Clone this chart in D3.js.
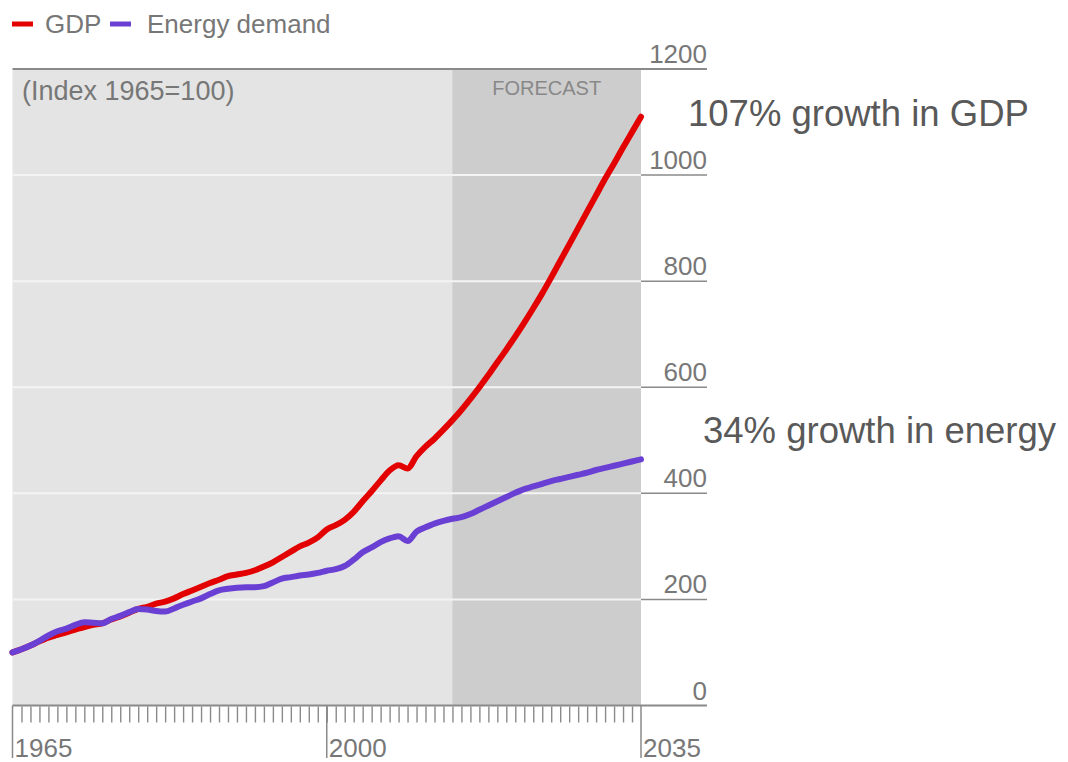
<!DOCTYPE html>
<html>
<head>
<meta charset="utf-8">
<script src="https://cdn.jsdelivr.net/npm/d3@7"></script>
<style>
  body { margin: 0; background: #fff; }
  svg { display: block; font-family: "Liberation Sans", Arial, sans-serif; }
</style>
</head>
<body>
<svg id="chart" width="1068" height="762"></svg>
<script>
// values, one per year from 1965 to 2035
const firstYear = 1965;
const gdp = [
  100, 106, 113, 121, 128, 133, 138, 143, 148, 152,
  155, 162, 168, 175, 182, 186, 192, 196, 202, 210,
  217, 224, 231, 237, 244, 247, 250, 255, 262, 270,
  280, 290, 300, 307, 317, 332, 340, 350, 365, 385,
  404, 424, 443, 453, 447, 470, 488, 503, 520, 538,
  557, 578, 600, 623, 647, 671, 696, 722, 749, 777,
  807, 838, 869, 900, 931, 962, 993, 1022, 1052, 1081,
  1110
];
const energy = [
  100, 106, 113, 122, 132, 140, 145, 152, 157, 156,
  155, 163, 169, 176, 182, 181, 178, 177, 183, 190,
  196, 202, 210, 217, 220, 222, 223, 223, 225, 232,
  239, 242, 245, 247, 250, 254, 257, 263, 275, 289,
  298, 308, 315, 319, 310, 328, 336, 343, 348, 352,
  355, 361, 369, 377, 385, 393, 401, 408, 413, 418,
  423, 427, 431, 435, 439, 444, 448, 452, 456, 460,
  464
];
const forecastStart = 2014;
const yTicks = [0, 200, 400, 600, 800, 1000, 1200];
const xLabels = [1965, 2000, 2035];
const seriesNames = ["GDP", "Energy demand"];
const seriesColors = ["#e30000", "#6a3fd4"];

const svg = d3.select("#chart");
const grey = "#8a8a8a";
const textGrey = "#777";

const x = d3.scaleLinear().domain([1965, 2035]).range([12.5, 641]);
const y = d3.scaleLinear().domain([0, 1200]).range([705.5, 69]);
const rightEdge = 707;

// plot background + forecast band
svg.append("rect")
  .attr("x", x(1965)).attr("y", y(1200))
  .attr("width", x(2035) - x(1965)).attr("height", y(0) - y(1200))
  .attr("fill", "#e4e4e4");
svg.append("rect")
  .attr("x", x(forecastStart)).attr("y", y(1200))
  .attr("width", x(2035) - x(forecastStart)).attr("height", y(0) - y(1200))
  .attr("fill", "#cdcdcd");

// gridlines: white inside the plot, grey under the labels
const inner = yTicks.filter(t => t > 0 && t < 1200);
svg.selectAll(".grid")
  .data(inner)
  .join("line")
  .attr("class", "grid")
  .attr("x1", x(1965)).attr("x2", x(2035))
  .attr("y1", d => y(d)).attr("y2", d => y(d))
  .attr("stroke", "#f4f4f4").attr("stroke-width", 2);
svg.selectAll(".gridR")
  .data(inner)
  .join("line")
  .attr("class", "gridR")
  .attr("x1", x(2035)).attr("x2", rightEdge)
  .attr("y1", d => y(d)).attr("y2", d => y(d))
  .attr("stroke", grey).attr("stroke-width", 1.5);
svg.selectAll(".edge")
  .data([0, 1200])
  .join("line")
  .attr("class", "edge")
  .attr("x1", x(1965)).attr("x2", rightEdge)
  .attr("y1", d => y(d)).attr("y2", d => y(d))
  .attr("stroke", grey).attr("stroke-width", 2);

svg.selectAll(".ylab")
  .data(yTicks)
  .join("text")
  .attr("class", "ylab")
  .attr("x", rightEdge).attr("y", d => y(d) - 6)
  .attr("text-anchor", "end")
  .attr("font-size", 26)
  .attr("fill", textGrey)
  .text(d => d);

// year ticks
const xAxis = d3.axisBottom(x)
  .tickValues(d3.range(1966, 2035))
  .tickSize(16)
  .tickFormat("");
const gx = svg.append("g").attr("transform", `translate(0,${y(0) + 1})`).call(xAxis);
gx.select(".domain").remove();
gx.selectAll("line").attr("stroke", grey).attr("stroke-width", 1.4);

svg.selectAll(".major")
  .data(xLabels)
  .join("line")
  .attr("class", "major")
  .attr("x1", d => x(d)).attr("x2", d => x(d))
  .attr("y1", y(0)).attr("y2", 758)
  .attr("stroke", grey).attr("stroke-width", 1.5);
svg.selectAll(".xlab")
  .data(xLabels)
  .join("text")
  .attr("class", "xlab")
  .attr("x", d => x(d) + 2).attr("y", 757)
  .attr("font-size", 26)
  .attr("fill", textGrey)
  .text(d => d);

// labels inside the plot
svg.append("text")
  .attr("x", 22).attr("y", 100)
  .attr("font-size", 27).attr("fill", textGrey)
  .text("(Index 1965=100)");
svg.append("text")
  .attr("x", (x(forecastStart) + x(2035)) / 2).attr("y", 95)
  .attr("text-anchor", "middle")
  .attr("font-size", 20).attr("fill", "#888")
  .text("FORECAST");

// lines (energy drawn last, it sits on top where they overlap)
const line = d3.line()
  .x((d, i) => x(firstYear + i))
  .y(d => y(d))
  .curve(d3.curveMonotoneX);

[gdp, energy].forEach((s, k) => {
  svg.append("path")
    .datum(s)
    .attr("d", line)
    .attr("fill", "none")
    .attr("stroke", seriesColors[k])
    .attr("stroke-width", 6)
    .attr("stroke-linecap", "round")
    .attr("stroke-linejoin", "round");
});

// legend
const legendX = [12, 110];
const leg = svg.selectAll(".leg")
  .data(seriesNames)
  .join("g")
  .attr("class", "leg")
  .attr("transform", (d, i) => `translate(${legendX[i]},0)`);
leg.append("line")
  .attr("x1", 0).attr("x2", 21)
  .attr("y1", 24).attr("y2", 24)
  .attr("stroke", (d, i) => seriesColors[i])
  .attr("stroke-width", 5);
leg.append("text")
  .attr("x", (d, i) => i ? 37 : 33).attr("y", 33)
  .attr("font-size", 26).attr("fill", textGrey)
  .text(d => d);

// annotations
svg.append("text")
  .attr("x", 688).attr("y", 126)
  .attr("font-size", 36.5).attr("fill", "#595959")
  .text("107% growth in GDP");
svg.append("text")
  .attr("x", 703).attr("y", 443)
  .attr("font-size", 36.5).attr("fill", "#595959")
  .text("34% growth in energy");
</script>
</body>
</html>
